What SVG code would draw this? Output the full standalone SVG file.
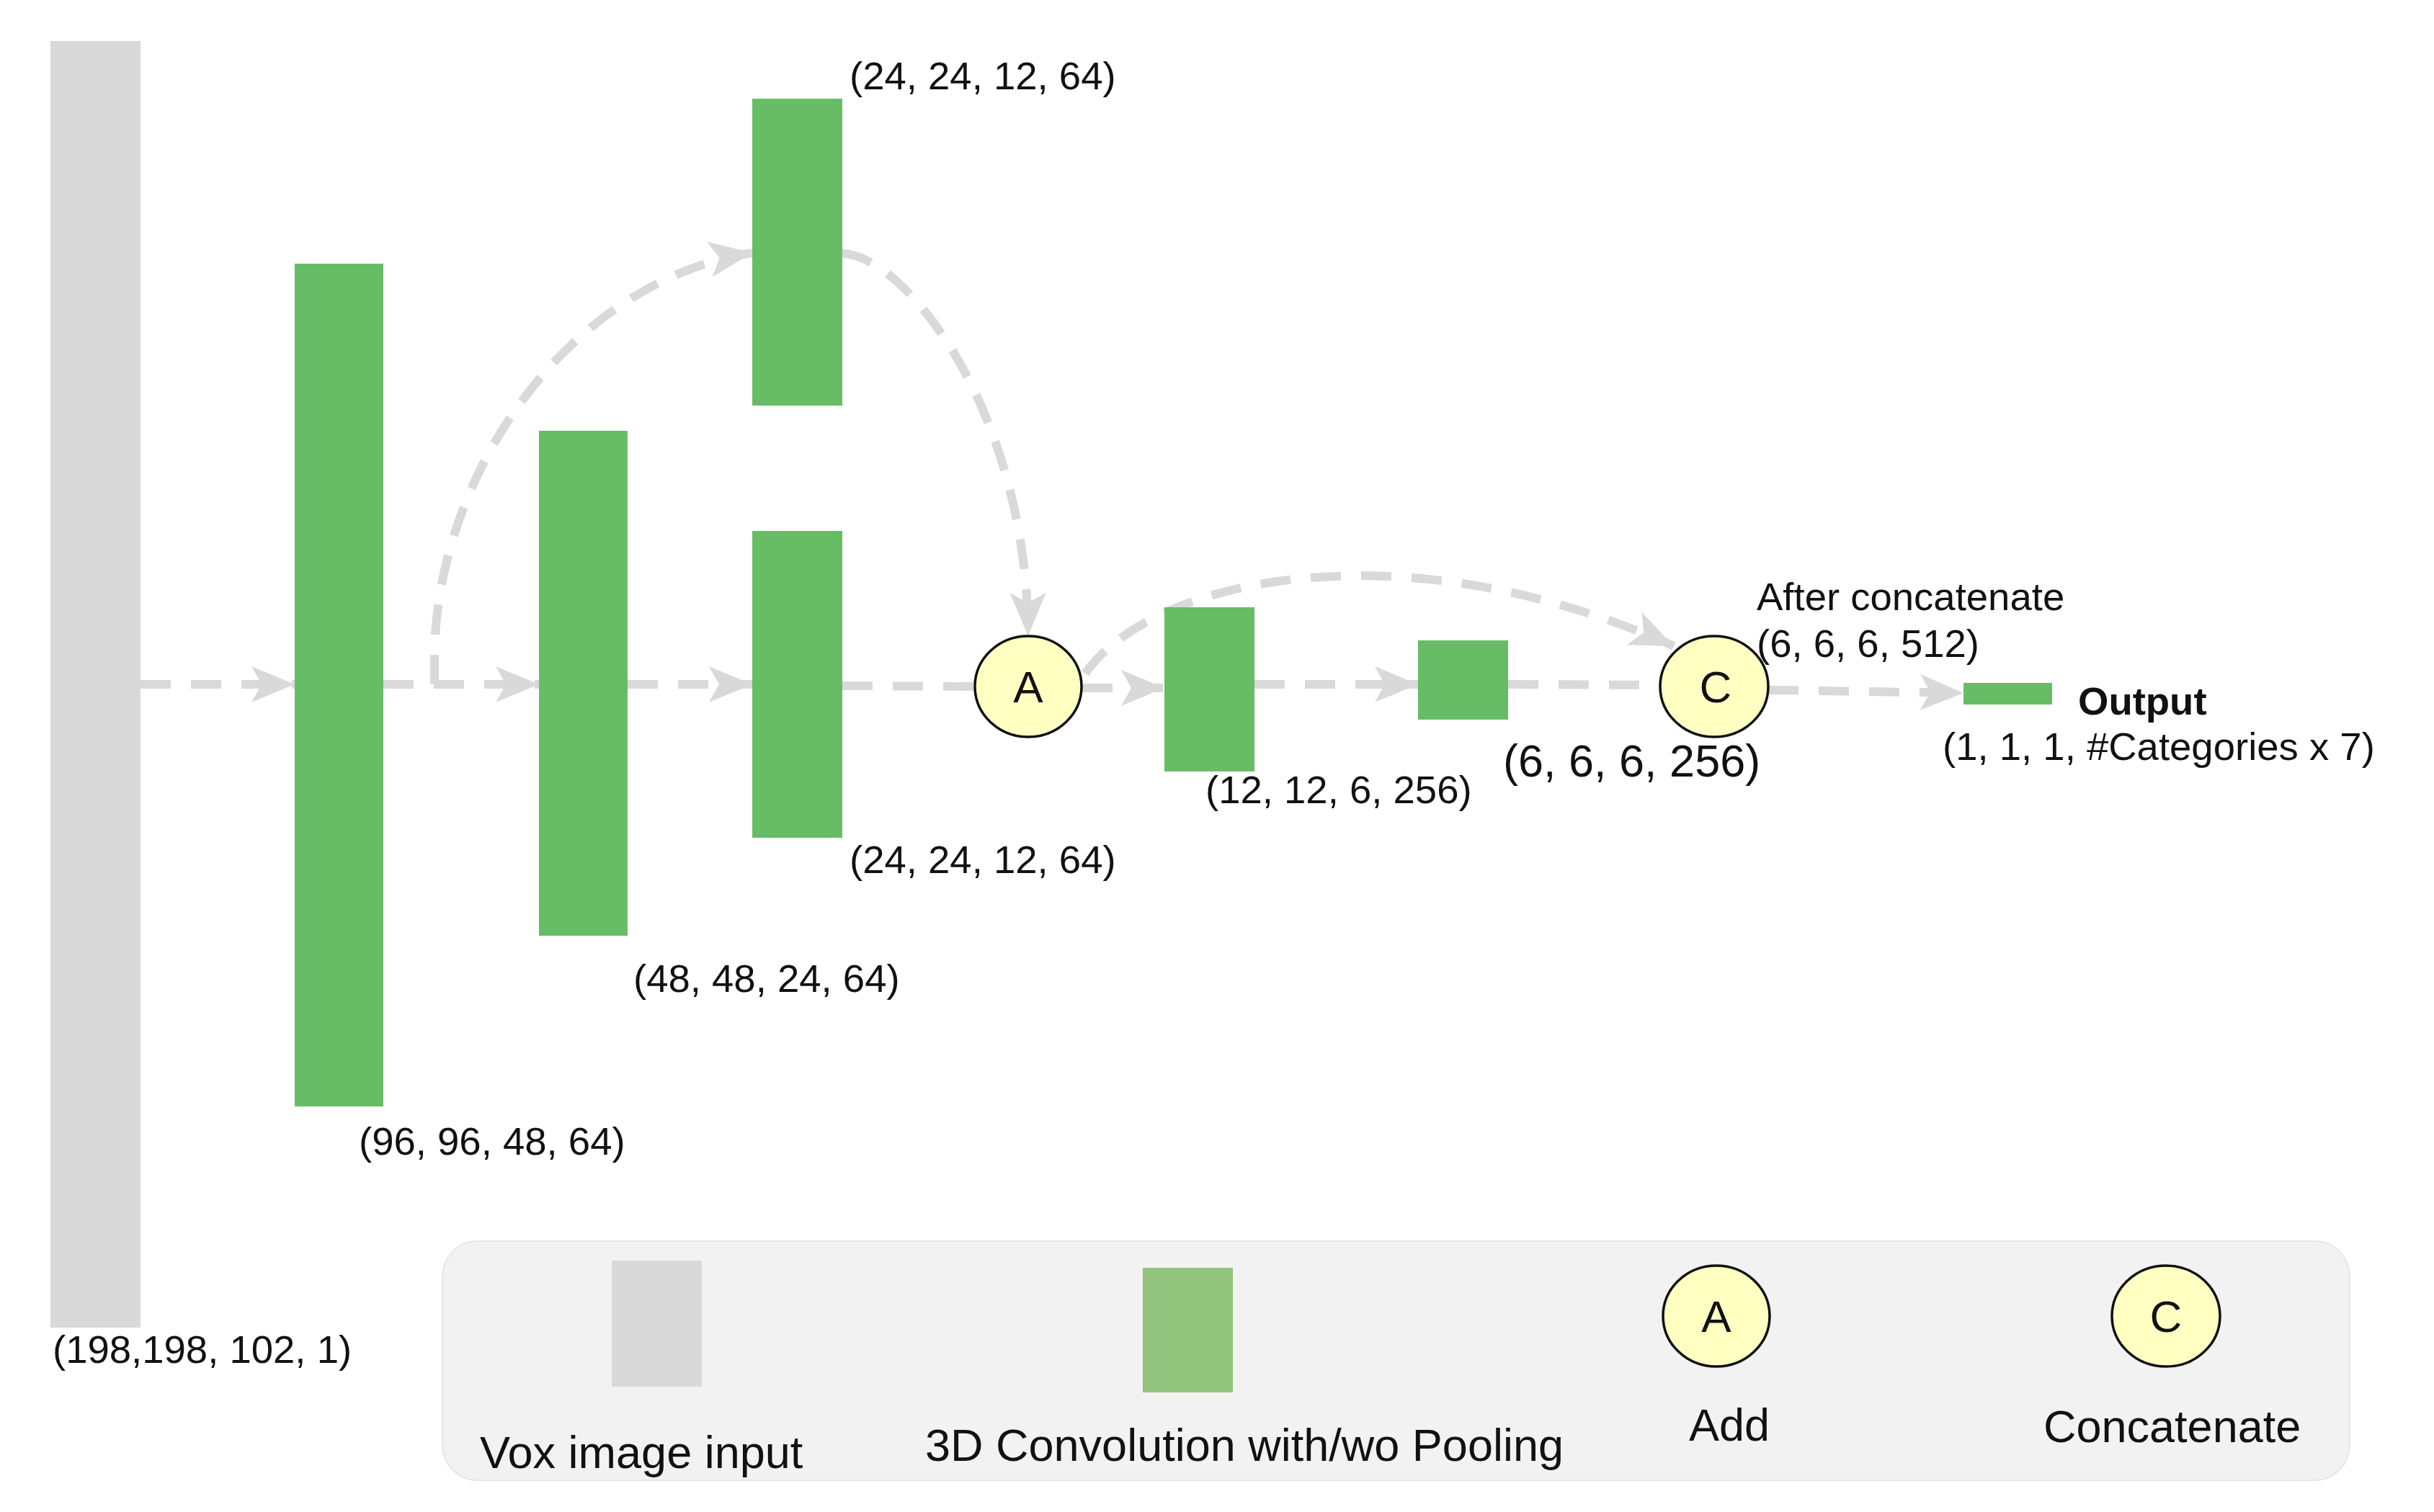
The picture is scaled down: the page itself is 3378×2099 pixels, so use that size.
<svg xmlns="http://www.w3.org/2000/svg" width="3378" height="2099" viewBox="0 0 3378 2099">
<defs>
<style>
.conv{fill:#67BD65}
.inp{fill:#D9D9D9}
.op{fill:#FFFFC2;stroke:#111;stroke-width:3.5}
.lbl{font-family:"Liberation Sans",Arial,sans-serif;font-size:54.5px;fill:#111}
.big{font-family:"Liberation Sans",Arial,sans-serif;font-size:63px;fill:#111}
.opt{font-family:"Liberation Sans",Arial,sans-serif;font-size:62px;fill:#111;text-anchor:middle}
.edge{fill:none;stroke:#D9D9D9;stroke-width:12;stroke-dasharray:42 28}
</style>
<marker id="ah" markerUnits="userSpaceOnUse" markerWidth="66" markerHeight="54" viewBox="0 -27 62 54" refX="60" refY="0" orient="auto">
<path d="M0,-25 L60,0 L0,25 L14,0 Z" fill="#D9D9D9"/>
</marker>
</defs>
<rect width="3378" height="2099" fill="#ffffff"/>

<g id="connectors">
<path class="edge" d="M195 950 L409 950" marker-end="url(#ah)"/>
<path class="edge" d="M532 950 L748 950" marker-end="url(#ah)"/>
<path class="edge" d="M871 950 L1044 950" marker-end="url(#ah)"/>
<path class="edge" d="M1169 952 L1352 953"/>
<path class="edge" d="M1502 955 L1616 955" marker-end="url(#ah)"/>
<path class="edge" d="M1741 950 L1968 950" marker-end="url(#ah)"/>
<path class="edge" d="M2093 950 L2303 951"/>
<path class="edge" d="M2454 958 L2725 962" marker-end="url(#ah)"/>
<path class="edge" d="M532 950 L603 950 L603 905 C608 655 790 390 1044 351" marker-end="url(#ah)"/>
<path class="edge" d="M1169 352 C1250 352 1425 560 1427 883" marker-end="url(#ah)"/>
<path class="edge" d="M1506 935 C1600 800 1950 730 2323 897" marker-end="url(#ah)"/>
</g>

<g id="input">
<rect class="inp" x="70" y="57" width="125" height="1786"/>
<text class="lbl" x="73" y="1892">(198,198, 102, 1)</text>
</g>
<g id="conv1">
<rect class="conv" x="409" y="366" width="123" height="1170"/>
<text class="lbl" x="498" y="1603">(96, 96, 48, 64)</text>
</g>
<g id="conv2">
<rect class="conv" x="748" y="598" width="123" height="701"/>
<text class="lbl" x="879" y="1377">(48, 48, 24, 64)</text>
</g>
<g id="conv3-top">
<rect class="conv" x="1044" y="137" width="125" height="426"/>
<text class="lbl" x="1179" y="124">(24, 24, 12, 64)</text>
</g>
<g id="conv3-bottom">
<rect class="conv" x="1044" y="737" width="125" height="426"/>
<text class="lbl" x="1179" y="1212">(24, 24, 12, 64)</text>
</g>
<g id="add">
<ellipse class="op" cx="1427" cy="953" rx="74" ry="70"/>
<text class="opt" x="1427" y="975">A</text>
</g>
<g id="conv4">
<rect class="conv" x="1616" y="843" width="125" height="228"/>
<text class="lbl" x="1673" y="1115">(12, 12, 6, 256)</text>
</g>
<g id="conv5">
<rect class="conv" x="1968" y="889" width="125" height="110"/>
<text class="big" x="2086" y="1078">(6, 6, 6, 256)</text>
</g>
<g id="concat">
<ellipse class="op" cx="2379" cy="953" rx="75" ry="70"/>
<text class="opt" x="2381" y="975">C</text>
<text class="lbl" x="2438" y="847">After concatenate</text>
<text class="lbl" x="2438" y="912">(6, 6, 6, 512)</text>
</g>
<g id="output">
<rect class="conv" x="2725" y="948" width="123" height="30"/>
<text class="lbl" x="2884" y="992" font-weight="bold">Output</text>
<text class="lbl" x="2696" y="1055">(1, 1, 1, #Categories x 7)</text>
</g>

<g id="legend">
<rect x="614" y="1723" width="2647" height="332" rx="48" ry="50" fill="#F2F2F2" stroke="#E6E6E6" stroke-width="2"/>
<rect class="inp" x="849" y="1750" width="125" height="175"/>
<text class="big" x="666" y="2038">Vox image input</text>
<rect x="1586" y="1760" width="125" height="173" fill="#93C47D"/>
<text class="big" x="1284" y="2028">3D Convolution with/wo Pooling</text>
<ellipse class="op" cx="2382" cy="1827" rx="74" ry="70"/>
<text class="opt" x="2382" y="1849">A</text>
<text class="big" x="2344" y="2000">Add</text>
<ellipse class="op" cx="3006" cy="1827" rx="75" ry="70"/>
<text class="opt" x="3006" y="1849">C</text>
<text class="big" x="2836" y="2002">Concatenate</text>
</g>
</svg>
